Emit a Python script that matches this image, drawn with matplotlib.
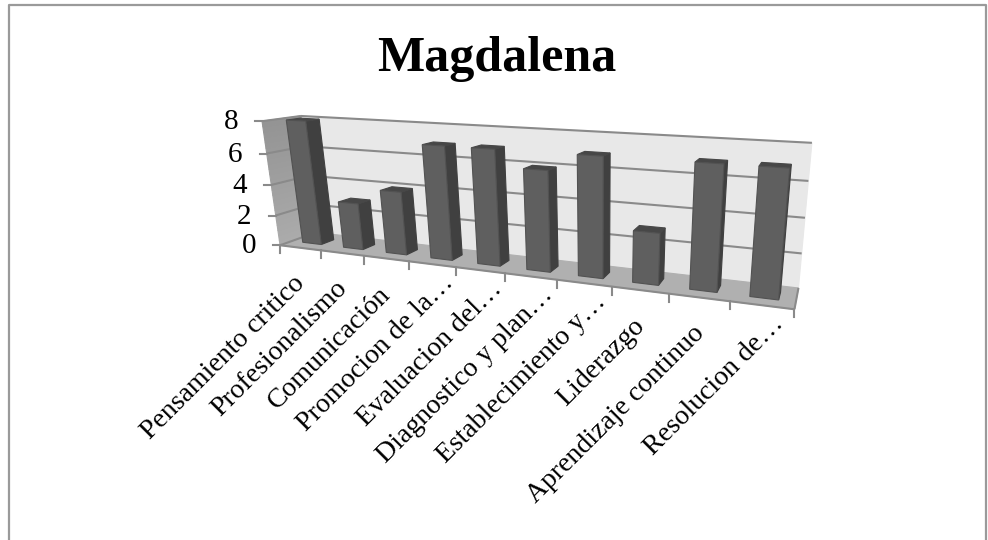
import numpy as np
import matplotlib
matplotlib.use("Agg")
import matplotlib.pyplot as plt
from matplotlib.patches import Polygon

plt.rcParams["font.family"] = ["Liberation Serif", "DejaVu Serif"]

title = "Magdalena"
categories = [
    "Pensamiento critico", "Profesionalismo", "Comunicación", "Promocion de la…",
    "Evaluacion del…", "Diagnostico y plan…", "Establecimiento y…", "Liderazgo",
    "Aprendizaje continuo", "Resolucion de…",
]
values = [8, 3, 4, 7, 7, 6, 7, 3, 7, 7]
y_ticks = [0, 2, 4, 6, 8]

# camera calibration: (category, value, depth) of chart frame -> image pixel
frame_world = np.array([
    (0, 0, 0), (0, 0, 1), (10, 0, 0), (10, 0, 1), (0, 8, 0), (0, 8, 1),
    (10, 8, 1), (5, 0, 0), (10, 4, 1),
], dtype=float)
frame_pixel = np.array([
    (278, 245), (318, 233), (795, 309), (798, 288), (264, 122), (299, 115),
    (812, 143), (505, 273), (805, 218),
], dtype=float)


def fit_camera(world, pixel):
    rows = []
    for (x, y, z), (u, v) in zip(world / (10, 8, 1), pixel / 1000):
        rows.append([x, y, z, 1, 0, 0, 0, 0, -u * x, -u * y, -u * z, -u])
        rows.append([0, 0, 0, 0, x, y, z, 1, -v * x, -v * y, -v * z, -v])
    return np.linalg.svd(np.array(rows))[2][-1].reshape(3, 4)


camera = fit_camera(frame_world, frame_pixel)


def proj(x, y, z):
    u, v, w = camera @ np.array([x / 10, y / 8, z, 1.0])
    return 1000 * u / w, 1000 * v / w


def face(ax, corners, color, edge=None, zorder=2):
    ax.add_patch(Polygon([proj(*c) for c in corners], closed=True, facecolor=color,
                         edgecolor=edge or color, lw=0.8, zorder=zorder))


def seg(ax, a, b, color="#8a8a8a", lw=1.5, zorder=3):
    (x0, y0), (x1, y1) = proj(*a), proj(*b)
    ax.plot([x0, x1], [y0, y1], color=color, lw=lw, zorder=zorder, solid_capstyle="butt")


fig = plt.figure(figsize=(9.88, 5.40), dpi=100)
ax = fig.add_axes([0, 0, 1, 1])
ax.set_xlim(0, 988)
ax.set_ylim(540, 0)
ax.axis("off")

# chart border (bottom edge is cropped in the picture)
ax.plot([9, 9, 986, 986], [540, 4.5, 4.5, 540], color="#9a9a9a", lw=1.6, zorder=1)

ax.text(497, 59, title, ha="center", va="center", fontsize=36, fontweight="bold")

n = len(categories)
top = max(y_ticks)

# walls and floor; side wall fades from dark at the top to lighter at the floor
face(ax, [(0, 0, 1), (n, 0, 1), (n, top, 1), (0, top, 1)], "#e8e8e8")
steps = 24
for k in range(steps):
    lo, hi = top * k / steps, top * (k + 1) / steps
    shade = 0.67 - 0.09 * k / (steps - 1)
    face(ax, [(0, lo, 0), (0, lo, 1), (0, hi, 1), (0, hi, 0)], str(shade))
face(ax, [(0, 0, 0), (n, 0, 0), (n, 0, 1), (0, 0, 1)], "#b0b0b0")

# gridlines run along the side wall and the back wall
for v in y_ticks:
    seg(ax, (0, v, 0), (0, v, 1), color="#8a8a8a")
    if v > 0:
        seg(ax, (0, v, 1), (n, v, 1))
    x0, y0 = proj(0, v, 0)
    ax.plot([x0 - 7, x0], [y0, y0], color="#8a8a8a", lw=1.5, zorder=3)
    ax.text(x0 - 24, y0 + 1, str(v), ha="right", va="center", fontsize=21)

# category axis: front edge, floor end and tick marks
seg(ax, (0, 0, 0), (n, 0, 0), zorder=3)
seg(ax, (n, 0, 0), (n, 0, 1), zorder=3)
for i in range(n + 1):
    x0, y0 = proj(i, 0, 0)
    ax.plot([x0, x0], [y0, y0 + 8], color="#8a8a8a", lw=1.5, zorder=3)

# bars, painted left to right
bar_w = 0.46
z0, z1 = 0.32, 0.68
for i, val in enumerate(values):
    l, r = i + 0.5 - bar_w / 2, i + 0.5 + bar_w / 2
    order = 10 + i
    face(ax, [(r, 0, z0), (r, 0, z1), (r, val, z1), (r, val, z0)], "#404040", zorder=order)
    face(ax, [(l, val, z0), (r, val, z0), (r, val, z1), (l, val, z1)], "#474747", zorder=order)
    face(ax, [(l, 0, z0), (r, 0, z0), (r, val, z0), (l, val, z0)], "#5f5f5f", "#525252", zorder=order)

# category labels, 45 degrees, anchored at their end; truncated ones reach further
for i, label in enumerate(categories):
    x0, y0 = proj(i + 0.5, 0, 0)
    dx, dy = (18, 15) if label.endswith("…") else (1, 32)
    ax.text(x0 + dx, y0 + dy, label, rotation=45, rotation_mode="anchor",
            ha="right", va="center", fontsize=20, zorder=30)

fig.savefig("out.png", dpi=100)
